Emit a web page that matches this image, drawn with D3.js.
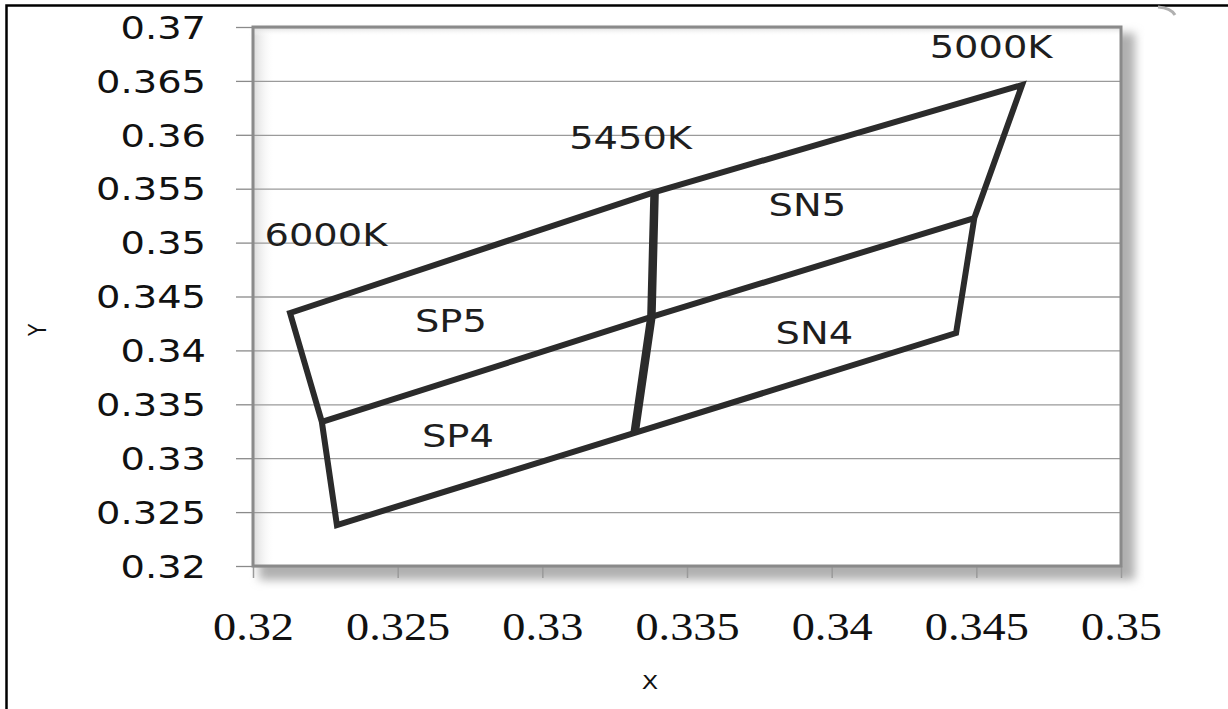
<!DOCTYPE html>
<html>
<head>
<meta charset="utf-8">
<script src="https://cdn.jsdelivr.net/npm/d3@7"></script>
<style>
  html, body { margin: 0; padding: 0; background: #fff; }
  svg { display: block; }
  .tick-y text { font-family: 'DejaVu Sans', sans-serif; font-size: 32px; fill: #111; }
  .tick-x text { font-family: 'Liberation Serif', serif; font-size: 41px; fill: #111; }
  .note { font-family: 'DejaVu Sans', sans-serif; font-size: 32px; fill: #1e1e1e; }
  .axis-title { font-family: 'DejaVu Sans', sans-serif; font-size: 20px; fill: #111; }
</style>
</head>
<body>
<div id="chart"></div>
<script>
// tick values and labels
const xTicks = [0.32, 0.325, 0.33, 0.335, 0.34, 0.345, 0.35];
const xTickLabels = ['0.32', '0.325', '0.33', '0.335', '0.34', '0.345', '0.35'];
const yTicks = [0.32, 0.325, 0.33, 0.335, 0.34, 0.345, 0.35, 0.355, 0.36, 0.365, 0.37];
const yTickLabels = ['0.32', '0.325', '0.33', '0.335', '0.34', '0.345', '0.35', '0.355', '0.36', '0.365', '0.37'];

// isotemperature lines: top, middle, bottom point of each
const cct6000X = [0.32128, 0.32238, 0.32290];
const cct6000Y = [0.34347, 0.33336, 0.32380];
const cct5450X = [0.33388, 0.33377, 0.33319];
const cct5450Y = [0.35469, 0.34310, 0.33234];
const cct5000X = [0.34658, 0.34493, 0.34430];
const cct5000Y = [0.36462, 0.35228, 0.34161];

// labels on the chart
const noteText = ['5000K', '5450K', '6000K', 'SP5', 'SP4', 'SN5', 'SN4'];
const noteX = [0.34551, 0.33305, 0.32252, 0.32684, 0.32708, 0.33916, 0.33940];
const noteY = [0.36712, 0.35868, 0.34968, 0.34171, 0.33104, 0.35247, 0.34059];

const width = 1228;
const height = 709;
const plot = { left: 253, top: 27, right: 1121, bottom: 566 };
const plotW = plot.right - plot.left;
const plotH = plot.bottom - plot.top;
const stretch = 1.2;

const svg = d3.select('#chart')
  .append('svg')
    .attr('width', width)
    .attr('height', height);

const defs = svg.append('defs');
defs.append('filter')
    .attr('id', 'shadow')
    .attr('x', '-10%').attr('y', '-10%')
    .attr('width', '120%').attr('height', '120%')
  .append('feGaussianBlur')
    .attr('stdDeviation', 5);
const gradLeft = defs.append('linearGradient')
    .attr('id', 'innerLeft')
    .attr('x1', 0).attr('x2', 1).attr('y1', 0).attr('y2', 0);
gradLeft.append('stop').attr('offset', 0).attr('stop-color', '#d8d8d8');
gradLeft.append('stop').attr('offset', 1).attr('stop-color', '#ffffff').attr('stop-opacity', 0);
const gradTop = defs.append('linearGradient')
    .attr('id', 'innerTop')
    .attr('x1', 0).attr('x2', 0).attr('y1', 0).attr('y2', 1);
gradTop.append('stop').attr('offset', 0).attr('stop-color', '#d8d8d8');
gradTop.append('stop').attr('offset', 1).attr('stop-color', '#ffffff').attr('stop-opacity', 0);

// outer frame, cut by the picture on the right and bottom
svg.append('rect')
    .attr('x', 6.5)
    .attr('y', 5.5)
    .attr('width', 1400)
    .attr('height', 900)
    .attr('fill', 'none')
    .attr('stroke', '#000')
    .attr('stroke-width', 2.5);
svg.append('path')
    .attr('d', 'M1158,7 Q1171,8 1175,15')
    .attr('fill', 'none')
    .attr('stroke', '#b0b0b0')
    .attr('stroke-width', 3);

const x = d3.scaleLinear()
    .domain([0.32, 0.35])
    .range([0, plotW]);
const y = d3.scaleLinear()
    .domain([0.32, 0.37])
    .range([plotH, 0]);

const g = svg.append('g')
    .attr('transform', 'translate(' + plot.left + ',' + plot.top + ')');

// plot area with shadow
g.append('rect')
    .attr('x', 6).attr('y', 6)
    .attr('width', plotW + 8).attr('height', plotH + 8)
    .attr('fill', '#b0b0b0')
    .attr('filter', 'url(#shadow)');
g.append('rect')
    .attr('width', plotW).attr('height', plotH)
    .attr('fill', '#fff');
g.append('rect')
    .attr('width', 22).attr('height', plotH)
    .attr('fill', 'url(#innerLeft)');
g.append('rect')
    .attr('width', plotW).attr('height', 9)
    .attr('fill', 'url(#innerTop)');

// gridlines
g.append('g')
    .attr('class', 'grid-y')
    .call(d3.axisRight(y)
      .tickValues(yTicks)
      .tickFormat('')
      .tickSize(plotW))
    .call((s) => s.select('.domain').remove())
    .call((s) => s.selectAll('line').attr('stroke', '#9a9a9a').attr('stroke-width', 1.3));

// y axis
g.append('g')
    .attr('class', 'tick-y')
    .call(d3.axisLeft(y)
      .tickValues(yTicks)
      .tickFormat((d, i) => yTickLabels[i])
      .tickSize(17))
    .call((s) => s.select('.domain').remove())
    .call((s) => s.selectAll('line').attr('stroke', '#8a8a8a').attr('stroke-width', 1.3))
    .call((s) => s.selectAll('text')
      .attr('x', 0)
      .attr('dy', '0.35em')
      .attr('font-size', null)
      .attr('font-family', null)
      .attr('transform', 'translate(-47,0) scale(' + stretch + ',1)'));

// x axis
g.append('g')
    .attr('class', 'tick-x')
    .attr('transform', 'translate(0,' + plotH + ')')
    .call(d3.axisBottom(x)
      .tickValues(xTicks)
      .tickFormat((d, i) => xTickLabels[i])
      .tickSize(12))
    .call((s) => s.select('.domain').remove())
    .call((s) => s.selectAll('line').attr('stroke', '#9a9a9a').attr('stroke-width', 1.5))
    .call((s) => s.selectAll('text')
      .attr('y', 0)
      .attr('dy', null)
      .attr('font-size', null)
      .attr('font-family', null)
      .attr('transform', 'translate(0,74) scale(1.13,1)'));

// plot border
g.append('rect')
    .attr('width', plotW).attr('height', plotH)
    .attr('fill', 'none')
    .attr('stroke', '#8a8a8a')
    .attr('stroke-width', 3);

// axis titles
svg.append('text')
    .attr('class', 'axis-title')
    .attr('text-anchor', 'middle')
    .attr('transform', 'translate(650,689) scale(' + stretch + ',1)')
    .text('X');
svg.append('text')
    .attr('class', 'axis-title')
    .attr('text-anchor', 'middle')
    .attr('transform', 'translate(46,330) scale(' + stretch + ',1) rotate(-90)')
    .text('Y');

// lines
const line = d3.line()
    .x((d) => x(d[0]))
    .y((d) => y(d[1]));
const pt = (xs, ys, i) => [xs[i], ys[i]];

const outline = [
  pt(cct6000X, cct6000Y, 0), pt(cct5450X, cct5450Y, 0), pt(cct5000X, cct5000Y, 0),
  pt(cct5000X, cct5000Y, 1), pt(cct5000X, cct5000Y, 2),
  pt(cct5450X, cct5450Y, 2), pt(cct6000X, cct6000Y, 2),
  pt(cct6000X, cct6000Y, 1)
];
const middle = [pt(cct6000X, cct6000Y, 1), pt(cct5450X, cct5450Y, 1), pt(cct5000X, cct5000Y, 1)];
const center = [0, 1, 2].map((i) => pt(cct5450X, cct5450Y, i));

const lines = g.append('g').attr('class', 'lines');
lines.append('path')
    .attr('d', line(outline) + 'Z')
    .attr('fill', 'none')
    .attr('stroke', '#2b2b2b')
    .attr('stroke-width', 6)
    .attr('stroke-linejoin', 'miter');
lines.append('path')
    .attr('d', line(middle))
    .attr('fill', 'none')
    .attr('stroke', '#2b2b2b')
    .attr('stroke-width', 6);
lines.append('path')
    .attr('d', line(center))
    .attr('fill', 'none')
    .attr('stroke', '#2b2b2b')
    .attr('stroke-width', 8.5);

// labels
g.append('g')
    .selectAll('text')
    .data(noteText)
    .enter().append('text')
      .attr('class', 'note')
      .attr('text-anchor', 'middle')
      .attr('transform', (d, i) => 'translate(' + x(noteX[i]) + ',' + y(noteY[i]) + ') scale(' + stretch + ',1)')
      .text((d) => d);
</script>
</body>
</html>
